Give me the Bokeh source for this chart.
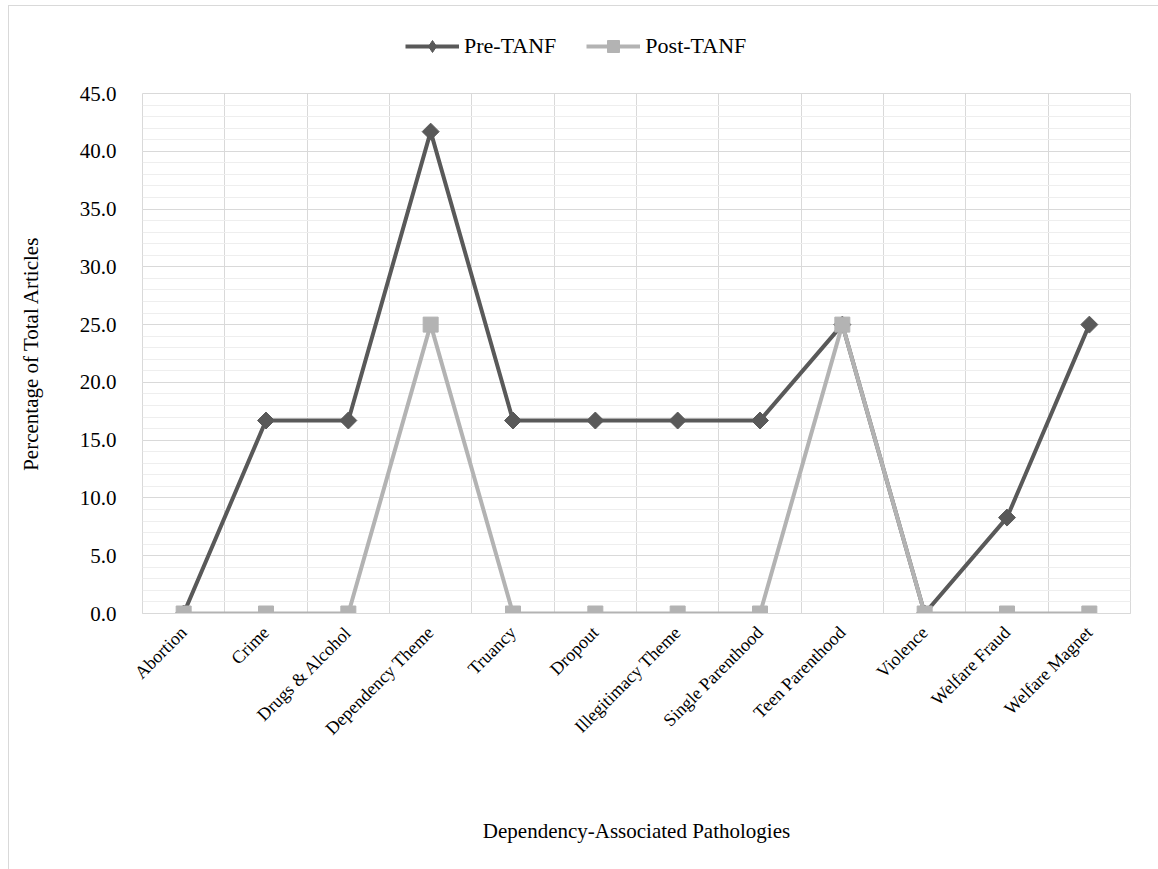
import math
from bokeh.plotting import figure
from bokeh.layouts import column
from bokeh.models import (Range1d, FixedTicker, SingleIntervalTicker, NumeralTickFormatter,
                          Legend, LegendItem, ColumnDataSource)
from bokeh.embed import file_html
from bokeh.resources import INLINE

categories = ["Abortion", "Crime", "Drugs & Alcohol", "Dependency Theme", "Truancy",
              "Dropout", "Illegitimacy Theme", "Single Parenthood", "Teen Parenthood",
              "Violence", "Welfare Fraud", "Welfare Magnet"]
pre_tanf = [0.0, 16.7, 16.7, 41.7, 16.7, 16.7, 16.7, 16.7, 25.0, 0.0, 8.3, 25.0]
post_tanf = [0.0, 0.0, 0.0, 25.0, 0.0, 0.0, 0.0, 0.0, 25.0, 0.0, 0.0, 0.0]
series_names = ["Pre-TANF", "Post-TANF"]

FONT = "Liberation Serif"
DARK = "#595959"
LIGHT = "#b3b3b3"
W = 1149
LEG_H = 70

xpos = [i + 0.5 for i in range(len(categories))]
src = ColumnDataSource(dict(x=xpos, pre=pre_tanf, post=post_tanf))


def add_series(fig, pre_marker, pre_size, pre_angle):
    pl = fig.line("x", "pre", source=src, line_color=DARK, line_width=4)
    pm = fig.scatter("x", "pre", source=src, marker=pre_marker, size=pre_size, angle=pre_angle,
                     fill_color=DARK, line_color=DARK)
    ql = fig.line("x", "post", source=src, line_color=LIGHT, line_width=4)
    qm = fig.scatter("x", "post", source=src, marker="square", size=15,
                     fill_color=LIGHT, line_color=LIGHT)
    return pl, pm, ql, qm


# main chart
p = figure(width=W, height=863 - LEG_H, output_backend="svg", toolbar_location=None,
           x_range=Range1d(0, len(categories)), y_range=Range1d(0, 45),
           min_border_left=133, min_border_right=28, min_border_top=17, min_border_bottom=256)
p.outline_line_color = "#d9d9d9"
p.outline_line_width = 1
p.background_fill_color = "white"
p.border_fill_color = "white"

p.yaxis.ticker = SingleIntervalTicker(interval=5, num_minor_ticks=5)
p.yaxis.formatter = NumeralTickFormatter(format="0.0")
p.yaxis.axis_label = "Percentage of Total Articles"
p.yaxis.axis_label_text_font = FONT
p.yaxis.axis_label_text_font_size = "21px"
p.yaxis.axis_label_text_font_style = "normal"
p.yaxis.axis_label_text_color = "black"
p.yaxis.axis_label_standoff = 34
p.yaxis.major_label_text_font = FONT
p.yaxis.major_label_text_font_size = "21px"
p.yaxis.major_label_text_color = "black"
p.yaxis.major_label_standoff = 20
p.yaxis.axis_line_color = None
p.yaxis.major_tick_line_color = None
p.yaxis.minor_tick_line_color = None

p.xaxis.ticker = FixedTicker(ticks=xpos)
p.xaxis.major_label_overrides = {x: c for x, c in zip(xpos, categories)}
p.xaxis.major_label_orientation = math.pi / 4
p.xaxis.major_label_text_font = FONT
p.xaxis.major_label_text_font_size = "18px"
p.xaxis.major_label_text_color = "black"
p.xaxis.major_label_standoff = 10
p.xaxis.axis_label = "Dependency-Associated Pathologies"
p.xaxis.axis_label_text_font = FONT
p.xaxis.axis_label_text_font_size = "21px"
p.xaxis.axis_label_text_font_style = "normal"
p.xaxis.axis_label_text_color = "black"
p.xaxis.axis_label_standoff = 70
p.xaxis.axis_line_color = "#d9d9d9"
p.xaxis.major_tick_line_color = None
p.xaxis.minor_tick_line_color = None

p.xgrid.ticker = FixedTicker(ticks=list(range(1, len(categories))))
p.xgrid.grid_line_color = "#d9d9d9"
p.xgrid.grid_line_width = 1
p.ygrid.grid_line_color = "#d9d9d9"
p.ygrid.minor_grid_line_color = "#eeeeee"
p.ygrid.grid_line_width = 1

add_series(p, "square", 12, math.pi / 4)

# legend strip (series drawn outside its view; only the legend shows)
lg = figure(width=W, height=LEG_H, output_backend="svg", toolbar_location=None,
            x_range=Range1d(1000, 1001), y_range=Range1d(1000, 1001),
            min_border=0, x_axis_type=None, y_axis_type=None)
lg.outline_line_color = None
lg.grid.visible = False
lg.background_fill_color = "white"
lg.border_fill_color = "white"
pl, pm, ql, qm = add_series(lg, "diamond", 17, 0)

legend = Legend(items=[LegendItem(label=series_names[0], renderers=[pl, pm]),
                       LegendItem(label=series_names[1], renderers=[ql, qm])],
                orientation="horizontal", location=(263, 15),
                glyph_width=54, glyph_height=30, label_text_font=FONT,
                label_text_font_size="22px", label_text_font_style="normal",
                label_text_color="black", label_height=30,
                spacing=30, padding=0, margin=0, label_standoff=5,
                border_line_color=None, background_fill_alpha=0)
lg.add_layout(legend)

layout = column(lg, p, spacing=0)
layout.margin = (5, 0, 0, 8)
layout.styles = {"border-left": "1px solid #d9d9d9", "border-top": "1px solid #d9d9d9",
                 "gap": "0px"}

open("out.html", "w").write(file_html(layout, INLINE))
